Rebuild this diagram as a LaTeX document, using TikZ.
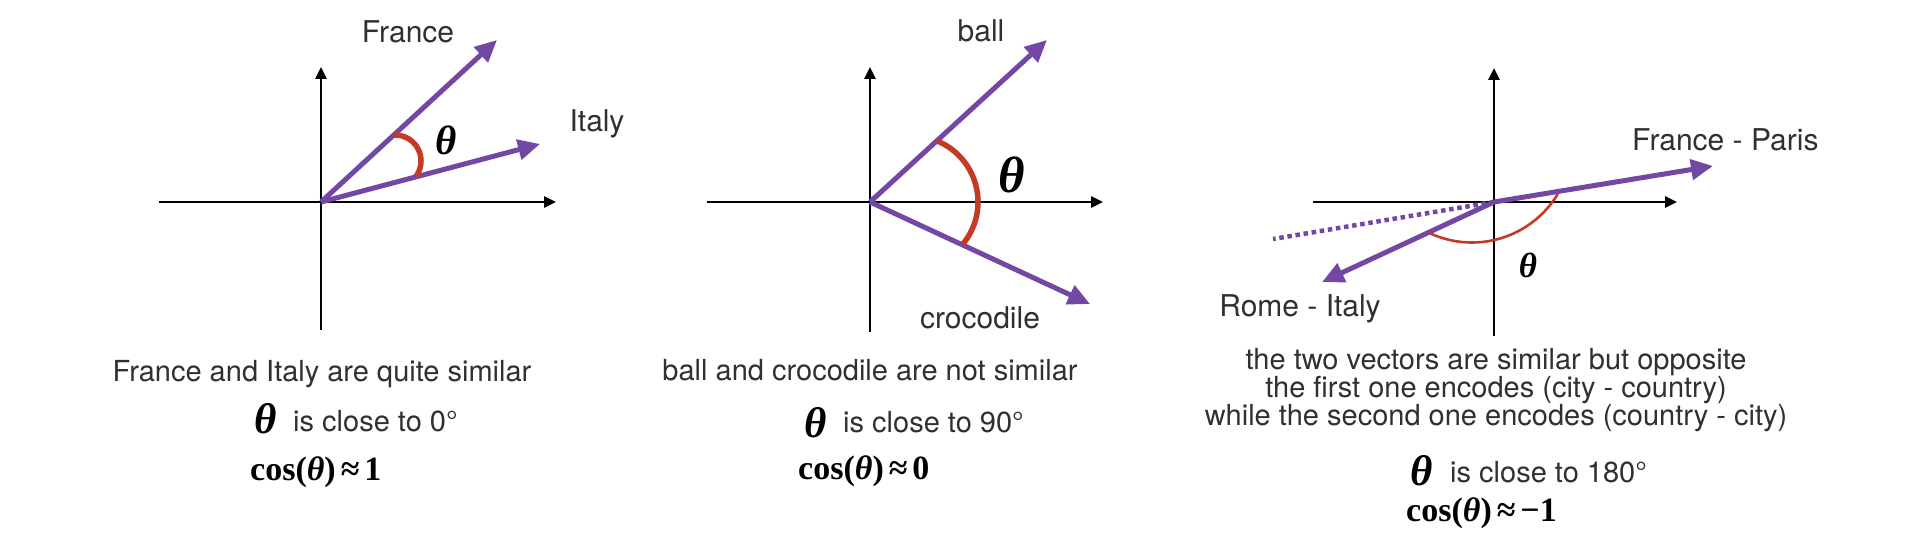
\documentclass[tikz,border=0pt]{standalone}
\usepackage{fontspec}
\setmainfont{TeX Gyre Heros}
\newfontfamily\tms{Liberation Serif}
\usetikzlibrary{arrows.meta}
\definecolor{vec}{RGB}{114,72,164}
\definecolor{arcred}{RGB}{196,58,36}
\definecolor{txt}{RGB}{48,48,48}
\begin{document}
\begin{tikzpicture}[x=1pt,y=-1pt,
  axis/.style={line width=2.6pt, black, -{Triangle[length=12pt,width=11pt]}},
  vector/.style={line width=5pt, vec, -{Triangle[length=22pt,width=20pt]}},
  dotline/.style={line width=4.5pt, vec, dash pattern=on 4.5pt off 3.7pt},
  anglearc/.style={line width=5.5pt, arcred},
  thinarc/.style={line width=2.6pt, arcred},
  lbl/.style={font=\fontsize{30}{36}\selectfont, text=txt, inner sep=0pt, anchor=base},
  captxt/.style={font=\fontsize{29}{35}\selectfont, text=txt, inner sep=0pt, anchor=base},
  thbig/.style={font=\tms\bfseries\itshape\fontsize{43}{43}\selectfont, inner sep=0pt, anchor=center},
  cosf/.style={font=\tms\bfseries\fontsize{34}{40}\selectfont, inner sep=0pt, anchor=base west},
]
\fill[white] (0,0) rectangle (1916,540);
\useasboundingbox (0,0) rectangle (1916,540);

% ---------------- Panel 1 ----------------
\coordinate (O1) at (321,202);
\coordinate (X1a) at (159,202); \coordinate (X1b) at (556,202);
\coordinate (Y1a) at (321,330); \coordinate (Y1b) at (321,67);
\draw[axis] (X1a) -- (X1b);
\draw[axis] (Y1a) -- (Y1b);
\coordinate (F1) at (497,40); \coordinate (I1) at (540,144);
\draw[vector] (O1) -- (F1);
\draw[vector] (O1) -- (I1);
\draw[anglearc] plot[domain=-93:36, samples=40, smooth] ({395+26*cos(\x)}, {161+26*sin(\x)});
\node[thbig, font=\tms\bfseries\itshape\fontsize{41}{41}\selectfont] (t1) at (446,140) {θ};
\node[lbl] (lF1) at (408,43) {France};
\node[lbl] (lI1) at (597,132) {Italy};
\node[captxt] (c1a) at (322,381) {France and Italy are quite similar};
\node[thbig] (c1t) at (265.5,419) {θ};
\node[captxt, anchor=base west] (c1b) at (293,431) {is close to 0°};
\node[cosf] (c1c) at (250,480) {cos(\textit{θ})\hspace{5pt}≈\hspace{5pt}1};

% ---------------- Panel 2 ----------------
\coordinate (O2) at (870,202);
\coordinate (X2a) at (707,202); \coordinate (X2b) at (1103,202);
\coordinate (Y2a) at (870,332); \coordinate (Y2b) at (870,67);
\draw[axis] (X2a) -- (X2b);
\draw[axis] (Y2a) -- (Y2b);
\coordinate (B2) at (1047,40); \coordinate (C2) at (1090,304);
\draw[vector] (O2) -- (B2);
\draw[vector] (O2) -- (C2);
\draw[anglearc] plot[domain=-68:40, samples=40, smooth] ({912+66*cos(\x)}, {202+66*sin(\x)});
\node[thbig, font=\tms\bfseries\itshape\fontsize{51}{51}\selectfont] (t2) at (1012,175) {θ};
\node[lbl] (lB2) at (981,42) {ball};
\node[lbl] (lC2) at (980,328) {crocodile};
\node[captxt] (c2a) at (870,380) {ball and crocodile are not similar};
\node[thbig] (c2t) at (815.5,422.5) {θ};
\node[captxt, anchor=base west] (c2b) at (843,432) {is close to 90°};
\node[cosf] (c2c) at (798,479) {cos(\textit{θ})\hspace{5pt}≈\hspace{5pt}0};

% ---------------- Panel 3 ----------------
\coordinate (O3) at (1494,202);
\coordinate (X3a) at (1313,202); \coordinate (X3b) at (1677,202);
\coordinate (Y3a) at (1494,336); \coordinate (Y3b) at (1494,68);
\draw[axis] (X3a) -- (X3b);
\draw[axis] (Y3a) -- (Y3b);
\coordinate (P3) at (1713,166); \coordinate (R3) at (1322,282);
\coordinate (D3) at (1273,239);
\draw[dotline] (O3) -- (D3);
\draw[vector] (O3) -- (P3);
\draw[vector] (O3) -- (R3);
\draw[thinarc] plot[domain=31:115, samples=40, smooth] ({1472+100*cos(\x)}, {142.5+100*sin(\x)});
\node[thbig, font=\tms\bfseries\itshape\fontsize{35}{35}\selectfont] (t3) at (1528,265) {θ};
\node[lbl, anchor=base west] (lP3) at (1632,151) {France - Paris};
\node[lbl] (lR3) at (1300,316) {Rome - Italy};
\node[captxt] (c3a) at (1496,369) {the two vectors are similar but opposite};
\node[captxt] (c3b) at (1496,397) {the first one encodes (city - country)};
\node[captxt] (c3c) at (1496,425) {while the second one encodes (country - city)};
\node[thbig] (c3t) at (1421.5,471) {θ};
\node[captxt, anchor=base west] (c3d) at (1450,482) {is close to 180°};
\node[cosf] (c3e) at (1406,521) {cos(\textit{θ})\hspace{5pt}≈\hspace{5pt}−1};
\end{tikzpicture}
\end{document}
